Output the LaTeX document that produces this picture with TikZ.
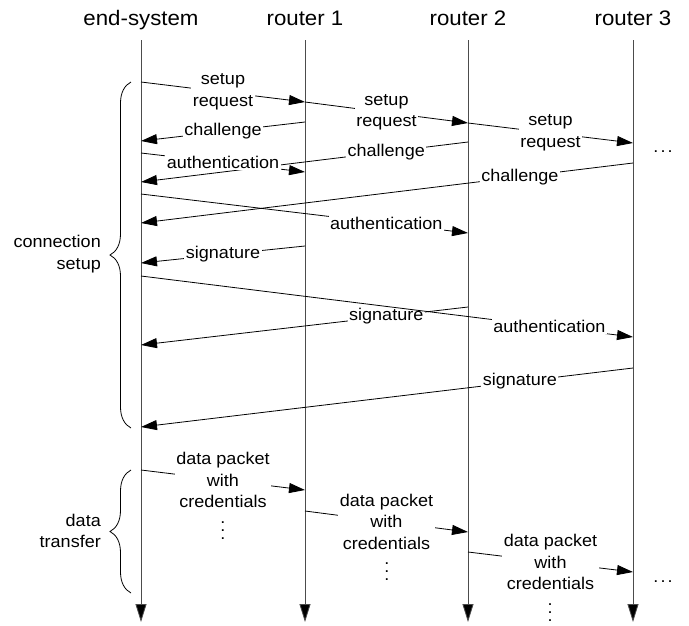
\documentclass[tikz,border=0pt]{standalone}
\usepackage{fontspec}
\setmainfont[FakeStretch=1.06]{Liberation Sans}
\usetikzlibrary{arrows.meta,decorations.pathreplacing}
\newcommand\myvdots{\vbox{\baselineskip=8pt\lineskiplimit=0pt\hbox{.}\hbox{.}\hbox{.}}}
\newcommand\myhdots{.\hspace{2.2pt}.\hspace{2.2pt}.}
\begin{document}
\begin{tikzpicture}[x=1pt,y=-1pt,
  title/.style={anchor=base,inner sep=0pt,font=\fontsize{21}{25}\selectfont},
  lbl/.style={fill=white,inner sep=1.5pt,align=center,font=\fontsize{17}{21.5}\selectfont},
  side/.style={anchor=east,align=right,inner sep=0pt,font=\fontsize{17}{21.5}\selectfont},
  dotsx/.style={inner sep=0pt,font=\fontsize{17}{21.5}\selectfont},
  msg/.style={line width=0.8pt,-{Triangle[length=16pt,width=10pt]}},
  life/.style={line width=0.8pt,draw=black!70,-{Triangle[length=18pt,width=11pt,fill=black]}},
  brc/.style={decorate,decoration={brace,amplitude=21pt},line width=0.8pt}]
\useasboundingbox (0,0) rectangle (689,625);
% titles
\node[title] (es) at (141,25) {end-system};
\node[title] (r1) at (305,25) {router 1};
\node[title] (r2) at (468,25) {router 2};
\node[title] (r3) at (633,25) {router 3};
% lifelines
\coordinate (esT) at (141,40); \coordinate (esB) at (141,622);
\coordinate (r1T) at (305,40); \coordinate (r1B) at (305,622);
\coordinate (r2T) at (468,40); \coordinate (r2B) at (468,622);
\coordinate (r3T) at (633,40); \coordinate (r3B) at (633,622);
\draw[life] (esT) -- (esB);
\draw[life] (r1T) -- (r1B);
\draw[life] (r2T) -- (r2B);
\draw[life] (r3T) -- (r3B);
% message end points
\coordinate (e1) at (141,82);  \coordinate (a1) at (305,102);
\coordinate (b1) at (468,123); \coordinate (c1) at (633,143);
\coordinate (a3) at (305,122); \coordinate (e2) at (141,141);
\coordinate (e3) at (141,153); \coordinate (a4) at (305,172);
\coordinate (b2) at (468,142); \coordinate (e4) at (141,182);
\coordinate (c2) at (633,163); \coordinate (e5) at (141,223);
\coordinate (e6) at (141,194); \coordinate (b3) at (468,233);
\coordinate (a5) at (305,246); \coordinate (e7) at (141,263);
\coordinate (e8) at (141,276); \coordinate (c3) at (633,337);
\coordinate (b4) at (468,307); \coordinate (e9) at (141,345);
\coordinate (c4) at (633,368); \coordinate (e10) at (141,427);
\coordinate (e11) at (141,470); \coordinate (a6) at (305,490);
\coordinate (a7) at (305,511); \coordinate (b5) at (468,532);
\coordinate (b6) at (468,552); \coordinate (c5) at (633,572);
% connection setup
\draw[msg] (e1) -- node[lbl,pos=0.5] (m1) {setup\\request} (a1);
\draw[msg] (a1) -- node[lbl,pos=0.5] (m2) {setup\\request} (b1);
\draw[msg] (b1) -- node[lbl,pos=0.5] (m3) {setup\\request} (c1);
\node[dotsx] (d1) at (663,152) {\myhdots};
\draw[msg] (a3) -- node[lbl,pos=0.5] (m4) {challenge} (e2);
\draw[msg] (b2) -- node[lbl,pos=0.25] (m6) {challenge} (e4);
\draw[msg] (e3) -- node[lbl,pos=0.5] (m5) {authentication} (a4);
\draw[msg] (c2) -- node[lbl,pos=0.23] (m7) {challenge} (e5);
\draw[msg] (e6) -- node[lbl,pos=0.75] (m8) {authentication} (b3);
\draw[msg] (a5) -- node[lbl,pos=0.5] (m9) {signature} (e7);
\draw[msg] (b4) -- node[lbl,pos=0.25] (m11) {signature} (e9);
\draw[msg] (e8) -- node[lbl,pos=0.83] (m10) {authentication} (c3);
\draw[msg] (c4) -- node[lbl,pos=0.23] (m12) {signature} (e10);
% data transfer
\draw[msg] (e11) -- node[lbl,pos=0.5] (m13) {data packet\\with\\credentials} (a6);
\draw[msg] (a7) -- node[lbl,pos=0.5] (m14) {data packet\\with\\credentials} (b5);
\draw[msg] (b6) -- node[lbl,pos=0.5] (m15) {data packet\\with\\credentials} (c5);
\node[dotsx] (v1) at (223,531) {\myvdots};
\node[dotsx] (v2) at (387,572) {\myvdots};
\node[dotsx] (v3) at (550,613) {\myvdots};
\node[dotsx] (d2) at (663,582) {\myhdots};
% braces
\coordinate (bs1) at (131,428); \coordinate (bs2) at (131,82);
\coordinate (bd1) at (131,593); \coordinate (bd2) at (131,470);
\draw[brc] (bs1) -- (bs2);
\draw[brc] (bd1) -- (bd2);
\node[side] (cs) at (101,254) {connection\\setup};
\node[side] (dt) at (101,531) {data\\transfer};
\end{tikzpicture}
\end{document}
